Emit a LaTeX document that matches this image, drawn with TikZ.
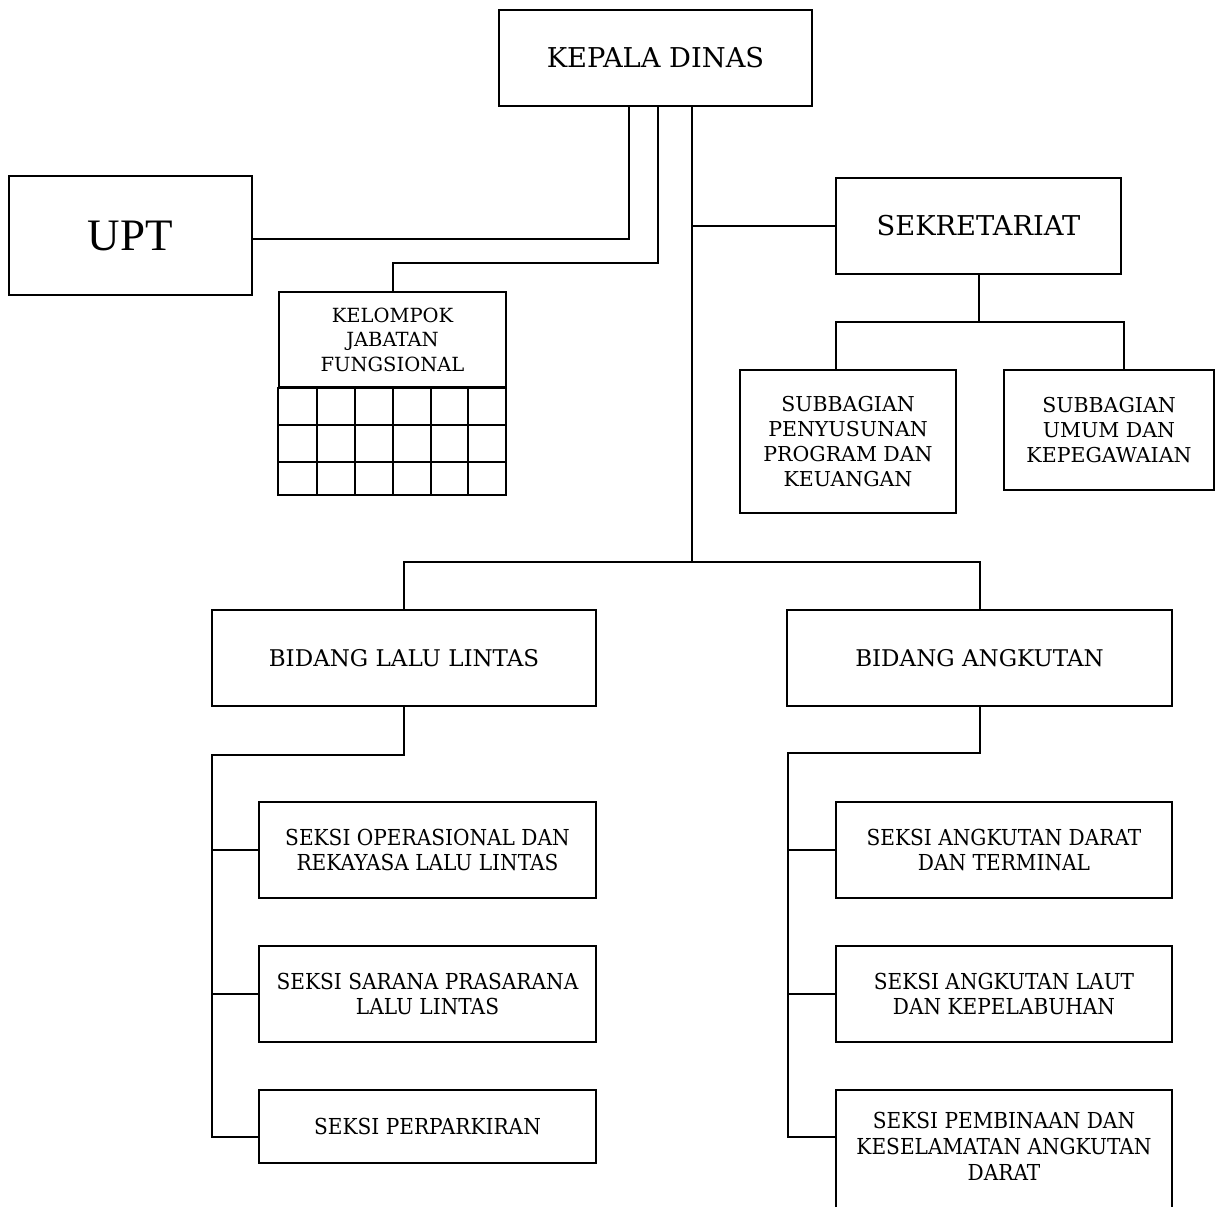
\documentclass[tikz,border=0pt]{standalone}
\usepackage{fontspec}
\setmainfont{DejaVu Serif}
\newfontfamily\narrowserif[FakeStretch=0.915]{DejaVu Serif}
\newfontfamily\uptfont{Liberation Serif}
\begin{document}
\begin{tikzpicture}[x=1pt,y=-1pt,
  line width=2pt,
  box/.style={draw, rectangle, inner sep=0pt, align=center},
  big/.style={font=\fontsize{27.3}{30}\selectfont},
  mid/.style={font=\fontsize{23}{26}\selectfont},
  norm/.style={font=\narrowserif\fontsize{22}{25.7}\selectfont},
  small/.style={font=\fontsize{20.5}{25}\selectfont},
  tiny/.style={font=\fontsize{19.5}{24.5}\selectfont}]
\useasboundingbox (0,0) rectangle (1217,1207);

\node[box,big,minimum width=313,minimum height=96] (kd) at (655.5,58) {KEPALA DINAS};
\node[box,minimum width=243,minimum height=119,font=\uptfont\fontsize{45}{50}\selectfont] (upt) at (130.5,235.5) {UPT};
\node[box,big,minimum width=285,minimum height=96] (sek) at (978.5,226) {SEKRETARIAT};
\node[box,small,minimum width=216,minimum height=143] (sp) at (848,441.5) {SUBBAGIAN\\PENYUSUNAN\\PROGRAM DAN\\KEUANGAN};
\node[box,small,minimum width=210,minimum height=120] (su) at (1109,430) {SUBBAGIAN\\UMUM DAN\\KEPEGAWAIAN};
\node[box,tiny,minimum width=227,minimum height=95] (kjf) at (392.5,339.5) {KELOMPOK\\JABATAN\\FUNGSIONAL};
\draw (kjf.south west) rectangle (506,495);
\foreach \yy in {425,462} \draw (279,\yy) -- (506,\yy);
\foreach \xx in {317,355,393,431,468} \draw (\xx,387) -- (\xx,495);

\node[box,mid,minimum width=384,minimum height=96] (bll) at (404,658) {BIDANG LALU LINTAS};
\node[box,mid,minimum width=385,minimum height=96] (ba) at (979.5,658) {BIDANG ANGKUTAN};

\node[box,norm,minimum width=337,minimum height=96] (so) at (427.5,850) {SEKSI OPERASIONAL DAN\\REKAYASA LALU LINTAS};
\node[box,norm,minimum width=337,minimum height=96] (ss) at (427.5,994) {SEKSI SARANA PRASARANA\\LALU LINTAS};
\node[box,norm,minimum width=337,minimum height=73] (spk) at (427.5,1126.5) {SEKSI PERPARKIRAN};

\node[box,norm,minimum width=336,minimum height=96] (sad) at (1004,850) {SEKSI ANGKUTAN DARAT\\DAN TERMINAL};
\node[box,norm,minimum width=336,minimum height=96] (sal) at (1004,994) {SEKSI ANGKUTAN LAUT\\DAN KEPELABUHAN};
\node[norm,inner sep=0pt,align=center] (spb) at (1004,1146.5) {SEKSI PEMBINAAN DAN\\KESELAMATAN ANGKUTAN\\DARAT};
\draw (836,1207) -- (836,1090) -- (1172,1090) -- (1172,1207);
\coordinate (spbw) at (836,1137);

% connectors
\coordinate (j1) at (392.5,263);
\coordinate (trunk) at (692,562);
\coordinate (sj) at (978.5,322);
\coordinate (lj) at (212,755);
\coordinate (rj) at (788,753);

\draw ([xshift=-26.5pt]kd.south) |- ([yshift=-3.5pt]upt.east);
\draw ([xshift=2.5pt]kd.south) |- (j1) -- (kjf.north);
\draw ([xshift=36.5pt]kd.south) -- (trunk);
\draw (sek.west) -- (sek.west -| trunk);
\draw (bll.north) |- (trunk) -| (ba.north);
\draw (sek.south) -- (sj);
\draw ([xshift=-12pt]sp.north) |- (sj) -| ([xshift=15pt]su.north);

\draw (bll.south) |- (lj) |- ([yshift=-10.5pt]spk.west);
\draw (so.west) -- (so.west -| lj);
\draw (ss.west) -- (ss.west -| lj);

\draw (ba.south) |- (rj) |- (spbw);
\draw (sad.west) -- (sad.west -| rj);
\draw (sal.west) -- (sal.west -| rj);
\end{tikzpicture}
\end{document}
